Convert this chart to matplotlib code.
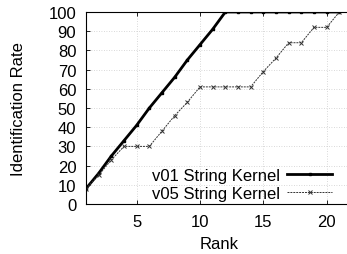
import matplotlib
matplotlib.use("Agg")
import matplotlib.pyplot as plt

rank = list(range(1, 22))
v01 = [8, 16, 25, 33, 41, 50, 58, 66, 75, 83, 91, 100, 100, 100, 100, 100, 100, 100, 100, 100, 100]
v05 = [8, 15, 23, 30, 30, 30, 38, 46, 53, 61, 61, 61, 61, 61, 69, 76, 84, 84, 92, 92, 100]
xticks = [5, 10, 15, 20]
yticks = list(range(0, 101, 10))

plt.rcParams["font.family"] = ["Liberation Sans", "DejaVu Sans"]

fig = plt.figure(figsize=(3.47, 2.55), dpi=100)
ax = fig.add_axes([86 / 347, 1 - 205 / 255, (352 - 86) / 347, (205 - 13) / 255])

ax.plot(rank, v01, color="black", linewidth=2, marker="s", markersize=2,
        label="v01 String Kernel")
ax.plot(rank, v05, color="#333333", linewidth=0.7, linestyle=(0, (2, 1)),
        marker="x", markersize=3, markeredgewidth=0.7, label="v05 String Kernel")

ax.set_xlim(1, 22)
ax.set_ylim(0, 100)
ax.set_xticks(xticks)
ax.set_yticks(yticks)
ax.tick_params(direction="in", length=3, width=0.6, labelsize=12,
               top=True, right=True, pad=7)
ax.grid(True, color="#cccccc", linestyle=(0, (1, 2)), linewidth=0.6)
for s in ax.spines.values():
    s.set_linewidth(0.8)

ax.set_xlabel("Rank", fontsize=12, labelpad=5)
ax.set_ylabel("Identification Rate", fontsize=12, labelpad=16)

ax.legend(loc="lower right", frameon=False, markerfirst=False, fontsize=12,
          handlelength=2.7, handletextpad=0.45, labelspacing=0.2,
          borderpad=0, borderaxespad=0,
          bbox_to_anchor=(332 / 347, 1 - 202 / 255),
          bbox_transform=fig.transFigure)

fig.savefig("out.png", dpi=100)
